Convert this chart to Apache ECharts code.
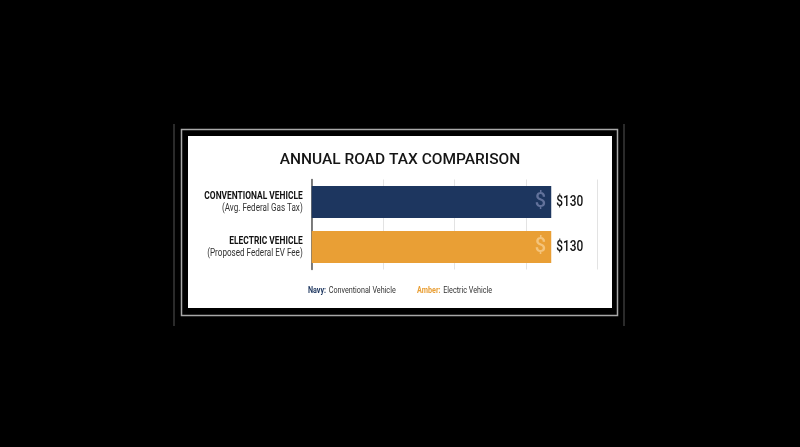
<!DOCTYPE html>
<html><head><meta charset="utf-8">
<script src="https://cdn.jsdelivr.net/npm/echarts@6/dist/echarts.min.js"></script>
<style>html,body{margin:0;padding:0;background:#000;}#c{width:800px;height:447px;}</style>
</head><body><div id="c"></div>
<script>
const categories = ['CONVENTIONAL VEHICLE', 'ELECTRIC VEHICLE'];
const subtitles = ['(Avg. Federal Gas Tax)', '(Proposed Federal EV Fee)'];
const values = [130, 130];
const barColors = ['#1d365f', '#e99f35'];
const iconColors = ['#62729b', '#f4c47c'];
const legendNames = ['Conventional Vehicle', 'Electric Vehicle'];
const legendKeys = ['Navy:', 'Amber:'];

const chart = echarts.init(document.getElementById('c'));
const baseGraphics = [
  {type: 'line', shape: {x1: 174, y1: 124, x2: 174, y2: 326}, style: {stroke: '#2a2a2a', lineWidth: 2}, z: 0},
  {type: 'line', shape: {x1: 624, y1: 124, x2: 624, y2: 326}, style: {stroke: '#2a2a2a', lineWidth: 2}, z: 0},
  {type: 'rect', shape: {x: 181.5, y: 129.5, width: 436, height: 186}, style: {fill: 'none', stroke: '#a8a8a8', lineWidth: 1.5}, z: 0},
  {type: 'rect', shape: {x: 188, y: 136, width: 424, height: 172}, style: {fill: '#fff'}, z: -1},
  {type: 'text', x: 400, y: 291, scaleX: 0.8, z: 5,
    style: {
      x: 0, y: 0, align: 'center', verticalAlign: 'middle',
      text: '{k0|' + legendKeys[0] + '} {t|' + legendNames[0] + '}        {k1|' + legendKeys[1] + '} {t|' + legendNames[1] + '}',
      rich: {
        k0: {fontFamily: 'Roboto', fontWeight: 'bold', fontSize: 9, fill: barColors[0]},
        k1: {fontFamily: 'Roboto', fontWeight: 'bold', fontSize: 9, fill: barColors[1]},
        t: {fontFamily: 'Roboto', fontSize: 9, fill: '#333'}
      }
    }
  }
];
chart.setOption({
  backgroundColor: '#000',
  animation: false,
  title: {
    text: 'ANNUAL ROAD TAX COMPARISON', left: 'center', top: 147,
    textStyle: {fontFamily: 'Roboto', fontWeight: 500, fontSize: 15.5, color: '#151515'}
  },
  graphic: baseGraphics,
  grid: {left: 311.7, right: 202.7, top: 179.5, bottom: 177.5, containLabel: false},
  xAxis: {
    type: 'value', min: 0, max: 155, interval: 38.75,
    axisLabel: {show: false}, axisLine: {show: false}, axisTick: {show: false},
    splitLine: {show: true, lineStyle: {color: '#e3e3e3', width: 1}}
  },
  yAxis: {
    type: 'category', inverse: true, data: categories,
    axisLine: {show: true, lineStyle: {color: '#555', width: 1.5}},
    axisTick: {show: false},
    axisLabel: {show: false}
  },
  series: [
    {
      type: 'bar', barCategoryGap: '29%',
      data: values.map((v, i) => ({value: v, itemStyle: {color: barColors[i]}, label: {color: iconColors[i]}})),
      label: {show: true, position: 'insideRight', distance: 5, formatter: '$',
        fontFamily: 'Roboto', fontWeight: 500, fontSize: 20}
    }
  ]
});

// Condensed-looking texts placed from the library's own scales
const extra = [];
categories.forEach((c, i) => {
  const y = chart.convertToPixel({yAxisIndex: 0}, c);
  const xAxisStart = chart.convertToPixel({xAxisIndex: 0}, 0);
  const xEnd = chart.convertToPixel({xAxisIndex: 0}, values[i]);
  extra.push({type: 'text', x: xAxisStart - 9, y: y - 6, scaleX: 0.84, z: 5,
    style: {x: 0, y: 0, text: c, align: 'right', verticalAlign: 'middle',
      fontFamily: 'Roboto', fontWeight: 'bold', fontSize: 10, fill: '#111'}});
  extra.push({type: 'text', x: xAxisStart - 9, y: y + 6.5, scaleX: 0.81, z: 5,
    style: {x: 0, y: 0, text: subtitles[i], align: 'right', verticalAlign: 'middle',
      fontFamily: 'Roboto', fontSize: 10, fill: '#333'}});
  extra.push({type: 'text', x: xEnd + 5, y: y, scaleX: 0.85, z: 5,
    style: {x: 0, y: 0, text: '$' + values[i], align: 'left', verticalAlign: 'middle',
      fontFamily: 'Roboto', fontWeight: 500, fontSize: 14, fill: '#111'}});
});
chart.setOption({graphic: baseGraphics.concat(extra)});
</script></body></html>
